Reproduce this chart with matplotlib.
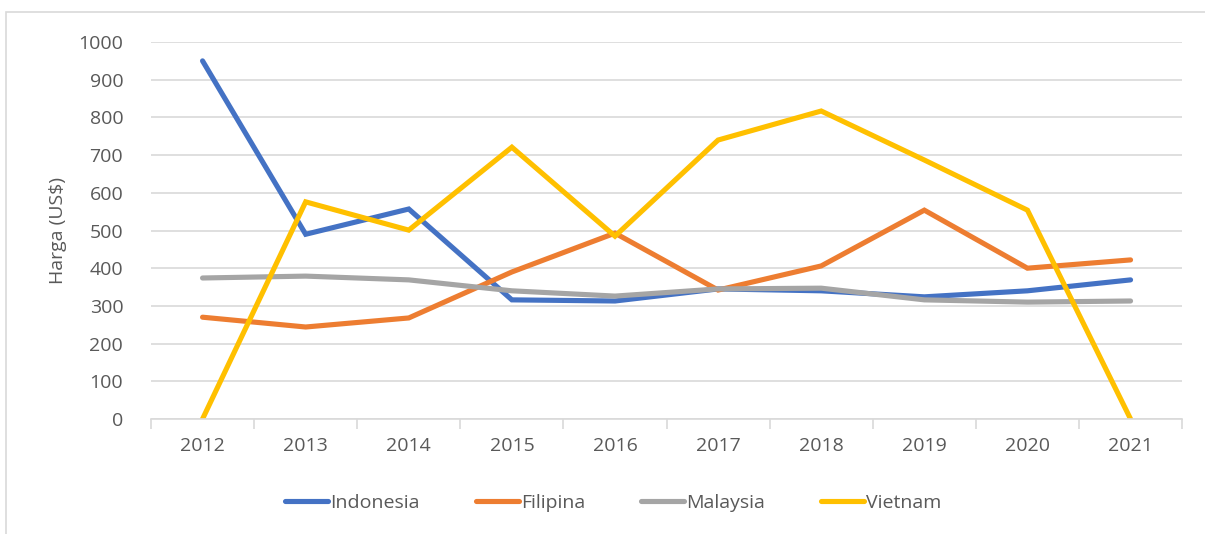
import matplotlib

matplotlib.use("Agg")
import matplotlib.pyplot as plt
import numpy as np
from matplotlib.patches import Rectangle

years = ["2012", "2013", "2014", "2015", "2016", "2017", "2018", "2019", "2020", "2021"]
indonesia = [950, 490, 557, 316, 313, 345, 340, 324, 340, 369]
filipina = [270, 244, 268, 390, 493, 342, 406, 554, 400, 422]
malaysia = [374, 379, 369, 340, 326, 345, 347, 316, 310, 313]
vietnam = [0, 576, 501, 721, 485, 740, 817, 687, 554, 0]

series = [
    ("Indonesia", indonesia, "#4472C4"),
    ("Filipina", filipina, "#ED7D31"),
    ("Malaysia", malaysia, "#A5A5A5"),
    ("Vietnam", vietnam, "#FFC000"),
]

plt.rcParams["font.family"] = ["Open Sans", "DejaVu Sans"]
text_color = "#595959"
grid_color = "#D9D9D9"

fig = plt.figure(figsize=(12.05, 5.34), dpi=100)
ax = fig.add_axes([0.1253, 0.2154, 0.8557, 0.7059])

xs = np.arange(len(years))
for name, vals, col in series:
    ax.plot(xs, vals, color=col, linewidth=3.7, label=name, solid_capstyle="round",
            solid_joinstyle="miter")

ax.set_xlim(-0.5, len(years) - 0.5)
ax.set_ylim(0, 1000)
ax.set_yticks(np.arange(0, 1001, 100))
ax.set_xticks(xs)
ax.set_xticklabels(years)
ax.set_xticks(np.arange(-0.5, len(years), 1.0), minor=True)
ax.tick_params(axis="x", which="major", length=0, pad=13, labelsize=14, labelcolor=text_color)
ax.tick_params(axis="x", which="minor", length=7, color=grid_color, width=1.2)
ax.tick_params(axis="y", length=0, pad=20, labelsize=14, labelcolor=text_color)
ax.grid(axis="y", color=grid_color, linewidth=1.2)
ax.set_axisbelow(True)
for s in ["top", "right", "left"]:
    ax.spines[s].set_visible(False)
ax.spines["bottom"].set_color(grid_color)
ax.spines["bottom"].set_linewidth(1.2)
ax.set_ylabel("Harga (US$)", fontsize=14, color=text_color, labelpad=8)

ax.legend(loc="center", bbox_to_anchor=(0.509, 0.058), bbox_transform=fig.transFigure,
          ncol=4, frameon=False, fontsize=14, labelcolor=text_color,
          handlelength=2.2, handletextpad=0.1, columnspacing=2.9)

fig.patches.append(Rectangle((6 / 1205, -0.1), 1.2, 1 - 12 / 534 + 0.1,
                             transform=fig.transFigure, fill=False,
                             edgecolor=grid_color, linewidth=1.2))

fig.savefig("out.png", dpi=100)
